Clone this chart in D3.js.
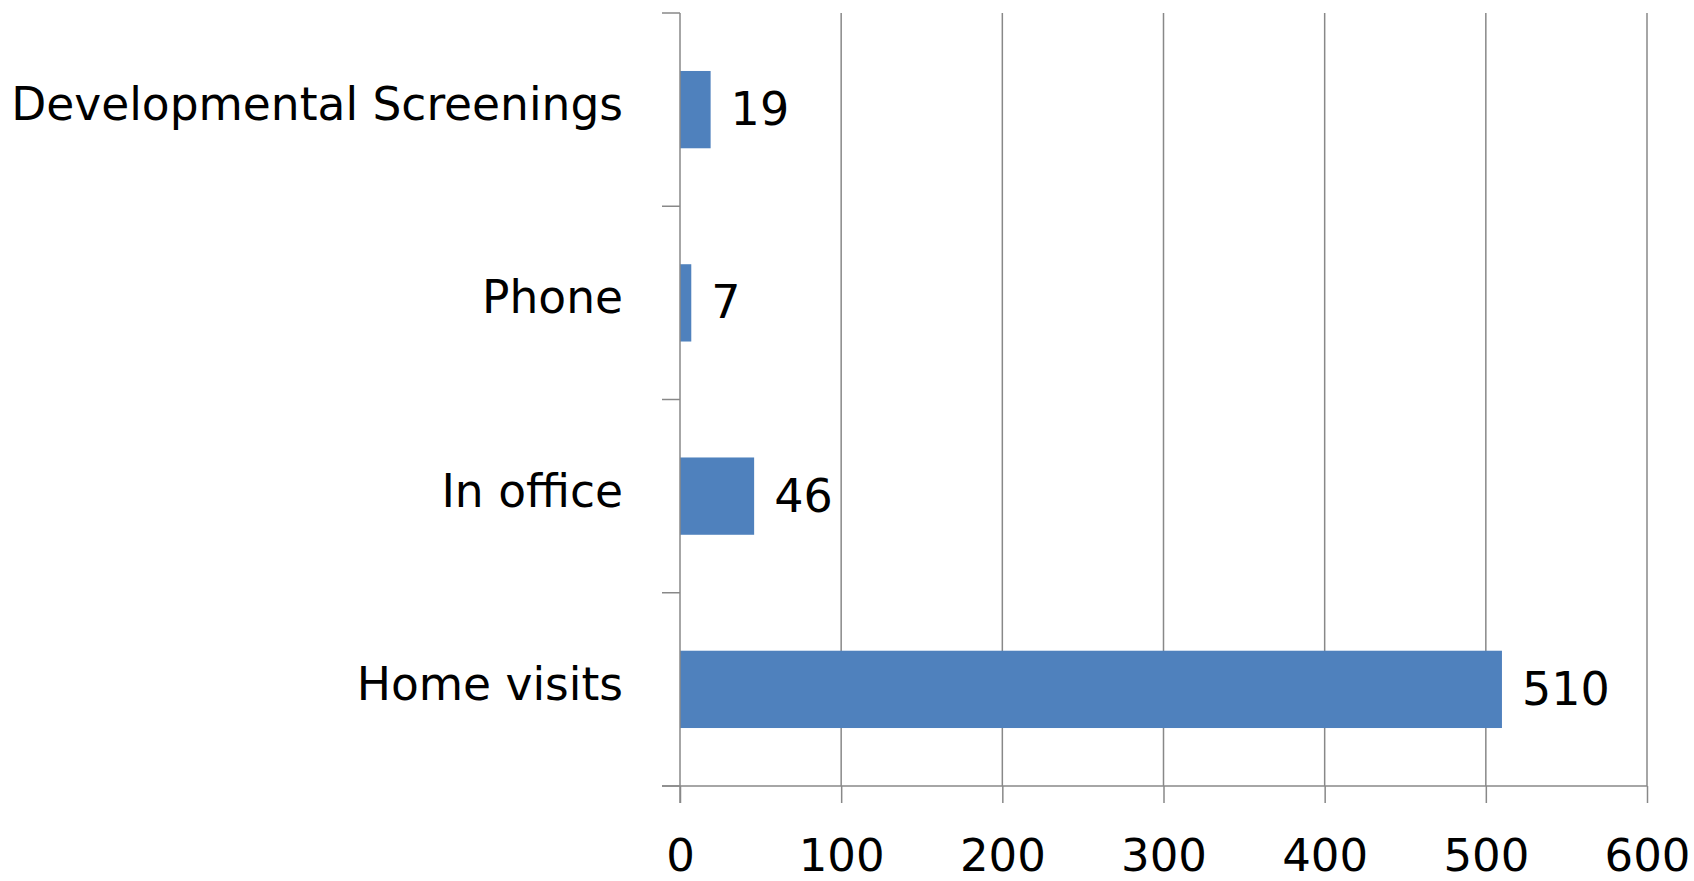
<!DOCTYPE html>
<html>
<head>
<meta charset="utf-8">
<script src="https://cdn.jsdelivr.net/npm/d3@7"></script>
<style>
  body { margin: 0; background: #fff; overflow: hidden; }
  svg { display: block; }
  svg text { font-family: "DejaVu Sans", sans-serif; fill: #000; }
</style>
</head>
<body>
<svg id="chart"></svg>
<script>
var categories = ['Developmental Screenings', 'Phone', 'In office', 'Home visits'];
var values = [19, 7, 46, 510];
var xTicks = [0, 100, 200, 300, 400, 500, 600];

var width = 1694;
var height = 881;
var plotLeft = 680;
var plotRight = 1647;
var plotTop = 13;
var plotBottom = 786;
var gridColor = '#888888';
var barColor = '#4F81BD';

var svg = d3.select('#chart')
  .attr('width', width)
  .attr('height', height);

// X scale
var xScale = d3.scaleLinear()
  .domain([0, 600])
  .range([plotLeft, plotRight]);

// Y scale
var yScale = d3.scaleBand()
  .domain(categories)
  .range([plotTop, plotBottom])
  .paddingInner(0.6)
  .paddingOuter(0.3);

var step = yScale.step();

// gridlines
svg.append('g')
  .selectAll('line')
  .data(xTicks.slice(1))
  .enter().append('line')
    .attr('x1', function(d) { return xScale(d); })
    .attr('x2', function(d) { return xScale(d); })
    .attr('y1', plotTop)
    .attr('y2', plotBottom)
    .attr('stroke', gridColor)
    .attr('stroke-width', 1.5);

// bars
svg.append('g')
  .selectAll('rect')
  .data(values)
  .enter().append('rect')
    .attr('x', xScale(0))
    .attr('y', function(d, i) { return yScale(categories[i]); })
    .attr('width', function(d) { return xScale(d) - xScale(0); })
    .attr('height', yScale.bandwidth())
    .attr('fill', barColor);

// value labels
svg.append('g')
  .selectAll('text')
  .data(values)
  .enter().append('text')
    .attr('x', function(d) { return xScale(d) + 20; })
    .attr('y', function(d, i) { return yScale(categories[i]) + yScale.bandwidth() / 2 - 1; })
    .attr('dy', '0.36em')
    .style('font-size', '46px')
    .text(function(d) { return d; });

// y axis line and ticks at category boundaries
var yAxis = svg.append('g');
yAxis.append('line')
  .attr('x1', plotLeft).attr('x2', plotLeft)
  .attr('y1', plotTop).attr('y2', plotBottom + 17)
  .attr('stroke', gridColor).attr('stroke-width', 1.5);

var boundaries = d3.range(categories.length + 1).map(function(i) { return plotTop + i * step; });
yAxis.selectAll('line.tick')
  .data(boundaries)
  .enter().append('line')
    .attr('class', 'tick')
    .attr('x1', plotLeft - 18).attr('x2', plotLeft)
    .attr('y1', function(d) { return d; })
    .attr('y2', function(d) { return d; })
    .attr('stroke', gridColor).attr('stroke-width', 1.5);

yAxis.selectAll('text')
  .data(categories)
  .enter().append('text')
    .attr('x', 623)
    .attr('y', function(d) { return yScale(d) + yScale.bandwidth() / 2 - 6; })
    .attr('dy', '0.36em')
    .attr('text-anchor', 'end')
    .style('font-size', '45.5px')
    .text(function(d) { return d; });

// x axis
var xAxis = svg.append('g')
  .attr('transform', 'translate(0,' + plotBottom + ')')
  .call(d3.axisBottom(xScale).tickValues(xTicks).tickSize(17).tickPadding(36).tickSizeOuter(0));

xAxis.select('.domain').remove();
xAxis.append('line')
  .attr('x1', plotLeft - 18).attr('x2', plotRight)
  .attr('y1', 0).attr('y2', 0)
  .attr('stroke', gridColor).attr('stroke-width', 1.5);
xAxis.selectAll('.tick line')
  .attr('stroke', gridColor)
  .attr('stroke-width', 1.5);
xAxis.selectAll('.tick text')
  .style('font-family', '"DejaVu Sans", sans-serif')
  .style('font-size', '45px')
  .attr('fill', '#000');
</script>
</body>
</html>
